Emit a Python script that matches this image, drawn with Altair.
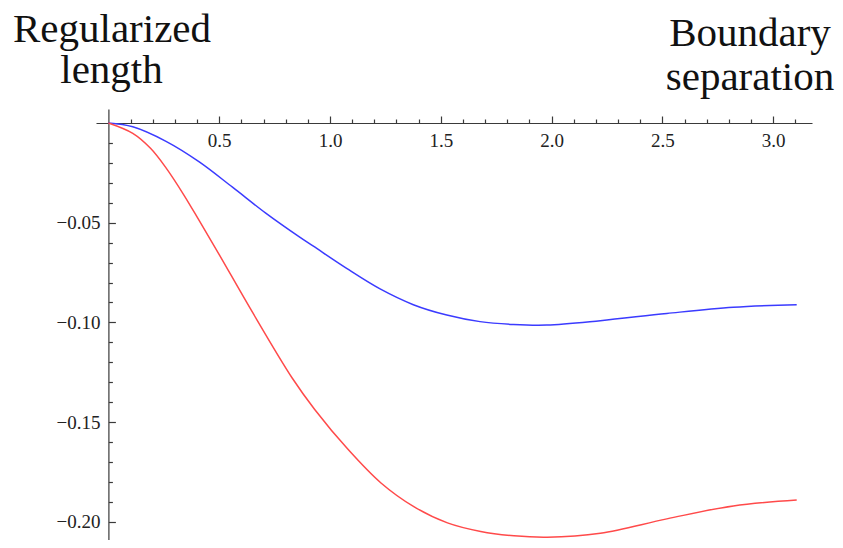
import altair as alt
import pandas as pd

# ---- data ----
blue_x = [0.0, 0.11, 0.26, 0.41, 0.56, 0.71, 0.86, 0.925, 1.075, 1.226, 1.376, 1.527, 1.677, 1.827, 1.978, 2.22, 2.52, 2.82, 3.106]
blue_y = [0.0, -0.0019, -0.0092, -0.0195, -0.0322, -0.0452, -0.0570, -0.0618, -0.0729, -0.0832, -0.0911, -0.0963, -0.0996, -0.1010, -0.1013, -0.0991, -0.0955, -0.0924, -0.0911]

red_x = [0.0, 0.11, 0.19, 0.26, 0.34, 0.41, 0.50, 0.64, 0.83, 0.93, 1.08, 1.23, 1.38, 1.53, 1.68, 1.83, 1.98, 2.22, 2.52, 2.82, 3.106]
red_y = [0.0, -0.0052, -0.0127, -0.0225, -0.036, -0.049, -0.066, -0.093, -0.128, -0.1435, -0.1635, -0.1805, -0.1925, -0.2005, -0.2048, -0.2070, -0.2077, -0.2057, -0.1985, -0.1920, -0.1891]

series_names = ["Blue", "Red"]
series_colors = ["#3b3bff", "#ff4a4a"]

x_ticks = [0.1, 0.2, 0.3, 0.4, 0.5, 0.6, 0.7, 0.8, 0.9, 1.0, 1.1, 1.2, 1.3, 1.4, 1.5,
           1.6, 1.7, 1.8, 1.9, 2.0, 2.1, 2.2, 2.3, 2.4, 2.5, 2.6, 2.7, 2.8, 2.9, 3.0, 3.1]
y_ticks = [-0.01, -0.02, -0.03, -0.04, -0.05, -0.06, -0.07, -0.08, -0.09, -0.10,
           -0.11, -0.12, -0.13, -0.14, -0.15, -0.16, -0.17, -0.18, -0.19, -0.20]

left_title = ["Regularized", "length"]
right_title = ["Boundary", "separation"]

# ---- build table ----
df = pd.concat([
    pd.DataFrame({"x": blue_x, "y": blue_y, "s": series_names[0]}),
    pd.DataFrame({"x": red_x, "y": red_y, "s": series_names[1]}),
], ignore_index=True)

W, H = 716, 431
axis_color = "#3a3a3a"
label_font = "Liberation Serif"

x_major = "abs(datum.value*2 - round(datum.value*2)) < 1e-6"
y_major = "abs(datum.value*20 - round(datum.value*20)) < 1e-6"

x_axis = alt.Axis(
    orient="top", offset=-14, values=x_ticks, format=".1f",
    tickSize={"condition": {"test": x_major, "value": 7}, "value": 4},
    labelExpr=f"({x_major}) ? datum.label : ''",
    labelBaseline="top", labelPadding=-15, labelFont=label_font, labelFontSize=19,
    labelColor="#222222", labelFlush=False, labelOverlap=False,
    domainColor=axis_color, tickColor=axis_color, domainWidth=1.2, tickWidth=1.2,
    grid=False, title=None,
)
y_axis = alt.Axis(
    orient="right", offset=-(W - 12.4), values=y_ticks, format=".2f",
    tickSize={"condition": {"test": y_major, "value": 7}, "value": 4},
    labelExpr=f"({y_major}) ? datum.label : ''",
    labelAlign="right", labelBaseline="middle", labelPadding=-15.4,
    labelFont=label_font, labelFontSize=19, labelColor="#222222",
    labelFlush=False, labelOverlap=False,
    domainColor=axis_color, tickColor=axis_color, domainWidth=1.2, tickWidth=1.2,
    grid=False, title=None,
)

lines = alt.Chart(df).mark_line(interpolate="catmull-rom", strokeWidth=1.5, clip=True).encode(
    x=alt.X("x:Q", scale=alt.Scale(domain=[-0.056, 3.175], nice=False, zero=False), axis=x_axis),
    y=alt.Y("y:Q", scale=alt.Scale(domain=[-0.2091, 0.00702], nice=False, zero=False), axis=y_axis),
    color=alt.Color("s:N", scale=alt.Scale(domain=series_names, range=series_colors), legend=None),
    detail="s:N",
)

def title_line(text, x, y):
    return alt.Chart(pd.DataFrame({"t": [text]})).mark_text(
        font=label_font, fontSize=41, color="#111111", align="center", baseline="alphabetic"
    ).encode(text="t:N", x=alt.value(x), y=alt.value(y))

titles = [
    title_line(left_title[0], 16, -67),
    title_line(left_title[1], 15.5, -26),
    title_line(right_title[0], 654, -63),
    title_line(right_title[1], 654, -19),
]

chart = alt.layer(lines, *titles).properties(
    width=W, height=H,
    autosize=alt.AutoSizeParams(type="none"),
    padding={"left": 88, "top": 101, "right": 23, "bottom": 0},
).configure_view(stroke=None)

chart.save("out.html", embed_options={"renderer": "svg", "actions": False})
